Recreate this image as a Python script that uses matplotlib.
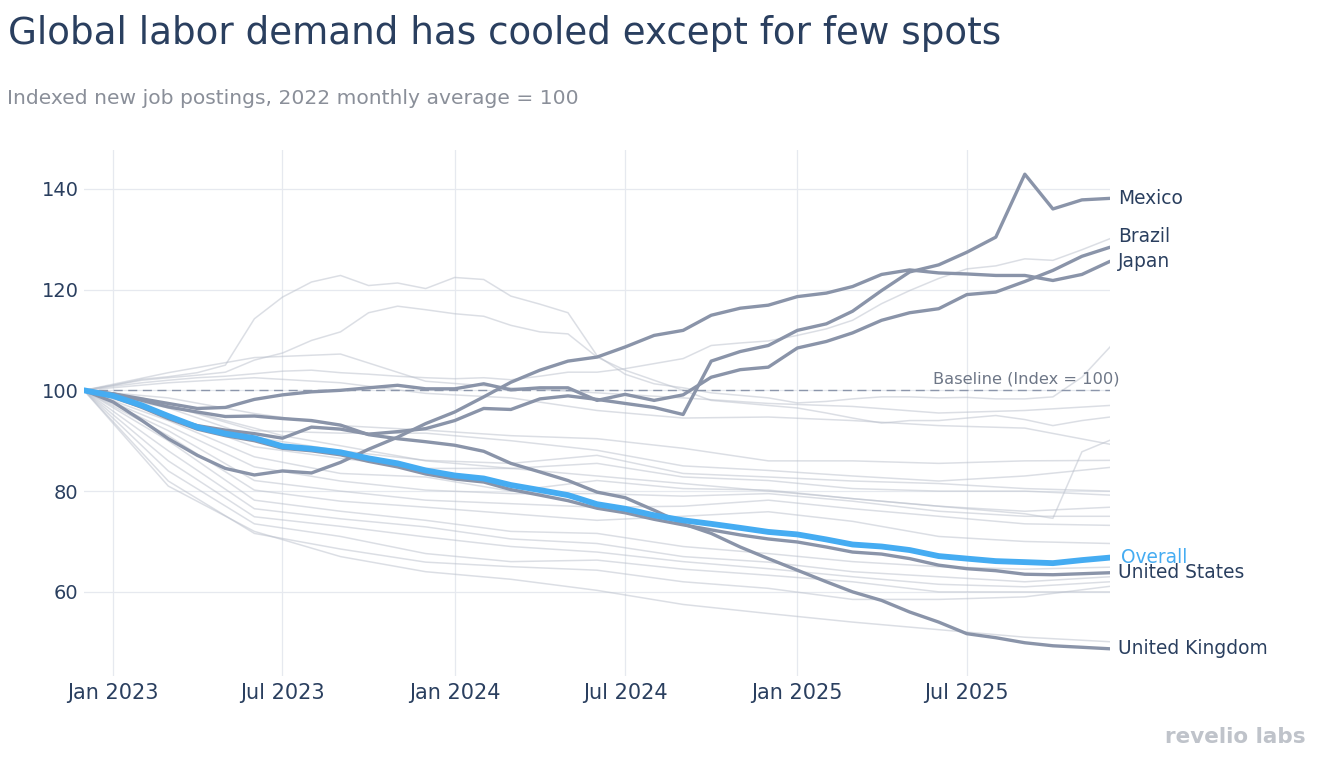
import matplotlib
matplotlib.use("Agg")
import matplotlib.pyplot as plt
import matplotlib.dates as mdates
import pandas as pd

plt.rcParams["font.family"] = ["DejaVu Sans"]

# monthly index, Dec 2022 .. Dec 2025
dates = pd.date_range("2022-12-01", "2025-12-01", freq="MS")
dates_q = dates[::3]

overall = [100, 98.9, 97.0, 94.9, 92.7, 91.4, 90.5, 88.9, 88.4, 87.7, 86.5, 85.5, 84.1,
           83.1, 82.5, 81.2, 80.2, 79.2, 77.4, 76.5, 75.2, 74.2, 73.5, 72.7, 71.9,
           71.4, 70.4, 69.4, 69.0, 68.3, 67.1, 66.6, 66.1, 65.9, 65.7, 66.3, 66.8]
united_states = [100, 98.7, 96.6, 94.4, 92.3, 91.0, 90.0, 88.5, 88.0, 87.2, 85.9, 84.8, 83.4,
                 82.4, 81.8, 80.3, 79.2, 78.1, 76.6, 75.7, 74.4, 73.3, 72.3, 71.3, 70.5,
                 69.9, 68.9, 67.9, 67.5, 66.6, 65.3, 64.6, 64.2, 63.5, 63.4, 63.6, 63.8]
united_kingdom = [100, 99.3, 98.0, 96.7, 95.7, 94.8, 94.9, 94.4, 94.0, 93.1, 91.2, 90.4, 89.8,
                  89.1, 87.9, 85.5, 83.8, 82.1, 79.8, 78.7, 76.2, 73.5, 71.6, 68.9, 66.6,
                  64.3, 62.0, 60.0, 58.3, 56.0, 54.0, 51.7, 50.9, 49.9, 49.3, 49.0, 48.7]
mexico = [100, 98.8, 96.8, 94.6, 93.0, 92.1, 91.4, 90.5, 92.7, 92.3, 91.3, 91.8, 92.4,
          94.0, 96.4, 96.2, 98.3, 98.9, 98.2, 97.4, 96.6, 95.2, 105.8, 107.7, 108.9,
          111.9, 113.2, 115.7, 119.8, 123.5, 124.9, 127.4, 130.4, 142.9, 136.0, 137.8, 138.1]
brazil = [100, 99.3, 98.3, 97.4, 96.4, 96.6, 98.2, 99.1, 99.7, 100.0, 100.5, 101.0, 100.3,
          100.3, 101.3, 100.1, 100.5, 100.5, 98.0, 99.2, 98.0, 99.1, 102.6, 104.1, 104.6,
          108.4, 109.7, 111.4, 113.9, 115.4, 116.2, 119.0, 119.5, 121.6, 123.8, 126.6, 128.4]
japan = [100, 97.7, 94.0, 90.4, 87.1, 84.5, 83.2, 84.0, 83.6, 85.7, 88.3, 90.7, 93.4,
         95.7, 98.7, 101.6, 104.0, 105.8, 106.6, 108.6, 110.9, 111.9, 114.9, 116.3, 116.9,
         118.6, 119.3, 120.6, 123.0, 123.9, 123.3, 123.1, 122.8, 122.8, 121.8, 123.0, 125.6]

# other countries (faint), monthly
other_monthly = [
    [100, 101, 102.2, 102.7, 103.5, 105.0, 114.2, 118.5, 121.5, 122.8, 120.8, 121.3, 120.2,
     122.4, 122.0, 118.7, 117.1, 115.4, 106.9, 103.2, 101.3, 100.5, 99.5, 99.0, 98.5,
     97.5, 97.8, 98.3, 98.7, 98.7, 98.5, 98.6, 98.3, 98.3, 98.7, 102.6, 108.6],
    [100, 101, 102, 102.5, 103, 103.6, 106, 107.4, 109.9, 111.6, 115.4, 116.7, 116.0,
     115.2, 114.7, 112.9, 111.6, 111.2, 106.6, 104, 102, 100, 98, 97.5, 97,
     96.5, 95.5, 94.5, 93.5, 94, 94, 94.5, 95, 94.2, 93, 94, 94.7],
    [100, 100.8, 101.5, 102, 102.5, 102.8, 103.3, 103.8, 104, 103.5, 103.2, 102.8, 102.5,
     102.3, 102.5, 102.1, 102.8, 103.6, 103.6, 104.3, 105.3, 106.3, 108.9, 109.4, 109.8,
     110.9, 112.2, 113.9, 117.2, 119.8, 122.2, 124.1, 124.7, 126.1, 125.8, 127.9, 130.1],
    # drifts down to ~75, then jumps in late 2025
    [100, 99.5, 98.5, 97.0, 95.5, 94.0, 92.5, 91.0, 90.0, 89.0, 88.0, 87.0, 86.0,
     85.5, 85.0, 84.5, 84.0, 83.5, 83.0, 82.5, 82.0, 81.5, 81.0, 80.5, 80.0,
     79.5, 79.0, 78.5, 78.0, 77.5, 77.0, 76.5, 76.0, 75.5, 74.6, 87.8, 90.1],
]
# other countries (faint), quarterly readings
other_quarterly = [
    [100, 103.5, 106.5, 107.2, 101.8, 100.5, 99.5, 98.5, 97.4, 96.8, 95.5, 96.0, 97.0],
    [100, 101.5, 102.5, 101.5, 99.4, 98.5, 96.0, 94.5, 94.7, 94.0, 93.0, 92.5, 89.3],
    [100, 98.5, 95.4, 93.0, 92.1, 91.0, 90.4, 88.5, 86.0, 86.0, 85.5, 86.0, 86.1],
    [100, 97.0, 92.0, 91.5, 91.5, 90.0, 88.1, 85.0, 84.1, 83.0, 82.0, 83.0, 84.7],
    [100, 96.5, 90.7, 88.0, 86.1, 85.5, 87.1, 83.5, 82.8, 82.0, 81.5, 80.5, 80.0],
    [100, 95.0, 88.8, 86.5, 84.5, 84.5, 85.5, 82.8, 82.1, 80.5, 80.0, 80.0, 79.2],
    [100, 94.0, 86.8, 83.5, 82.8, 80.0, 82.1, 80.5, 80.2, 78.5, 77.0, 76.0, 76.8],
    [100, 93.0, 84.8, 82.0, 80.2, 79.5, 79.5, 79.0, 79.5, 78.0, 76.0, 75.0, 75.0],
    [100, 92.0, 82.1, 80.0, 78.2, 77.5, 76.8, 77.0, 78.2, 76.5, 75.0, 73.5, 73.2],
    [100, 91.0, 80.2, 78.0, 76.8, 75.5, 74.2, 75.0, 75.9, 74.0, 71.0, 70.0, 69.6],
    [100, 90.0, 78.2, 76.0, 74.2, 72.0, 71.6, 69.0, 67.6, 66.0, 65.0, 64.5, 64.9],
    [100, 88.0, 76.5, 74.5, 72.9, 70.5, 69.6, 67.0, 65.9, 64.0, 63.0, 62.0, 63.0],
    [100, 86.0, 74.9, 73.0, 70.9, 69.0, 67.9, 66.0, 64.6, 63.0, 61.5, 61.0, 62.0],
    [100, 84.0, 73.5, 71.0, 67.6, 66.0, 66.3, 64.5, 63.3, 62.0, 60.0, 60.0, 60.0],
    [100, 82.0, 71.6, 68.5, 65.9, 65.0, 64.3, 62.0, 60.7, 58.5, 58.5, 59.0, 61.1],
    [100, 81.0, 72.0, 67.0, 64.0, 62.5, 60.3, 57.5, 55.7, 54.0, 52.5, 51.0, 50.1],
]

highlighted = [
    ("Mexico", mexico),
    ("Brazil", brazil),
    ("Japan", japan),
    ("United States", united_states),
    ("United Kingdom", united_kingdom),
]
label_nudge = {"Brazil": 2.2}

TEXT = "#2A3F5F"
HILITE = "#8A94A9"
BLUE = "#45ACF2"
FAINT = "#B9BFCB"

fig = plt.figure(figsize=(13.18, 7.62), dpi=100)
ax = fig.add_axes([84 / 1318, 1 - 676 / 762, (1110 - 84) / 1318, (676 - 150) / 762])

for vals in other_monthly:
    ax.plot(dates, vals, color=FAINT, lw=1.1, alpha=0.5, zorder=1)
for vals in other_quarterly:
    ax.plot(dates_q, vals, color=FAINT, lw=1.1, alpha=0.5, zorder=1)

ax.axhline(100, color="#8C96AB", lw=1, dashes=(6.5, 4), zorder=2)

for name, vals in highlighted:
    ax.plot(dates, vals, color=HILITE, lw=2.4, zorder=3, solid_capstyle="round")
    ax.annotate(name, (dates[-1], vals[-1] + label_nudge.get(name, 0)),
                xytext=(6, 0), textcoords="offset points", va="center", ha="left",
                fontsize=13.4, color=TEXT, annotation_clip=False)

ax.plot(dates, overall, color=BLUE, lw=4.2, zorder=4, solid_capstyle="round")
ax.annotate("Overall", (dates[-1], overall[-1]), xytext=(8, 0), textcoords="offset points",
            va="center", ha="left", fontsize=13.4, color=BLUE, annotation_clip=False)

ax.annotate("Baseline (Index = 100)", (dates[-1], 100), xytext=(7, 3),
            textcoords="offset points", va="bottom", ha="right", fontsize=11.7,
            color="#6E7787", annotation_clip=False)

ax.set_xlim(dates[0], dates[-1])
ax.set_ylim(43.3, 147.7)
ax.set_yticks([60, 80, 100, 120, 140])
ax.xaxis.set_major_locator(mdates.MonthLocator(bymonth=[1, 7]))
ax.xaxis.set_major_formatter(mdates.DateFormatter("%b %Y"))
ax.grid(True, color="#E6E9EF", lw=0.9, zorder=0)
ax.set_axisbelow(True)
for s in ax.spines.values():
    s.set_visible(False)
ax.tick_params(axis="both", length=0, colors=TEXT)
ax.tick_params(axis="x", labelsize=15, pad=5)
ax.tick_params(axis="y", labelsize=14, pad=4)

fig.text(0.006, 1 - 33 / 762, "Global labor demand has cooled except for few spots",
         fontsize=26.8, color=TEXT, va="center", ha="left")
fig.text(0.005, 1 - 98 / 762, "Indexed new job postings, 2022 monthly average = 100",
         fontsize=14.6, color="#8A8F99", va="center", ha="left")
fig.text(1306 / 1318, 1 - 737 / 762, "revelio labs", fontsize=15.5, fontweight="bold",
         color="#BFC3CA", va="center", ha="right")

fig.savefig("out.png", dpi=100)
plt.close(fig)
